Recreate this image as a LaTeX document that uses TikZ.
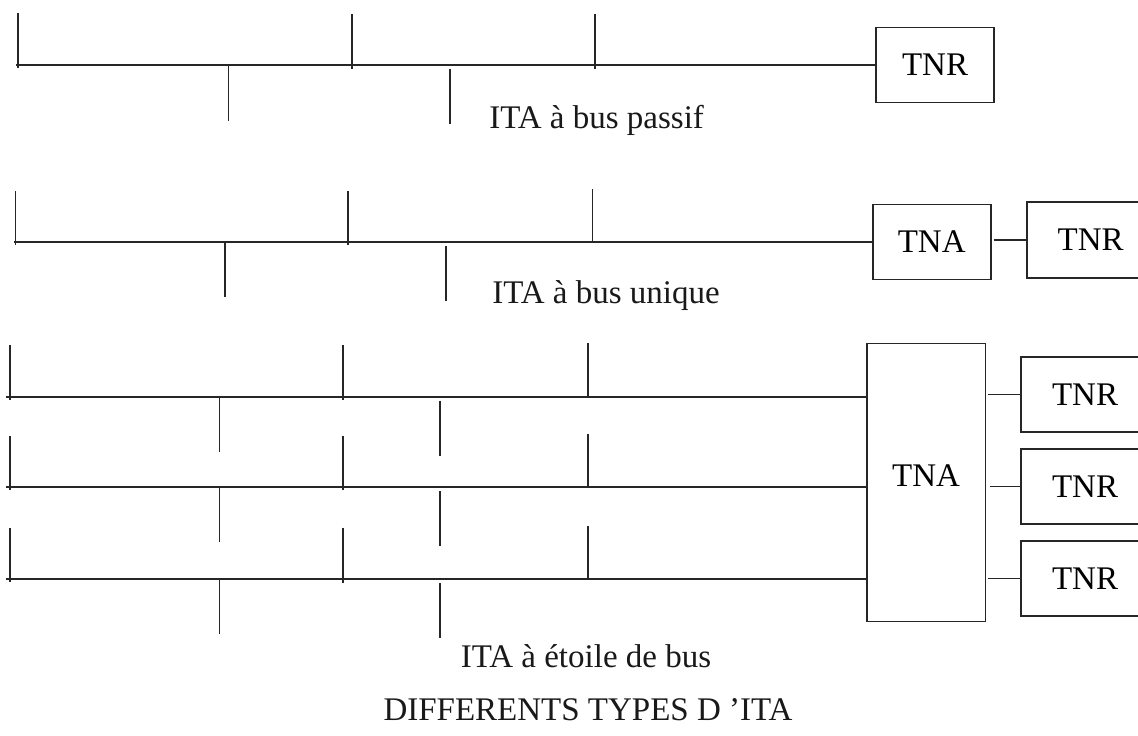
\documentclass[tikz,border=0pt]{standalone}
\usepackage{fontspec}
\setmainfont{Liberation Serif}
\begin{document}
\begin{tikzpicture}[x=0.5pt,y=-0.5pt,
  ln/.style={line width=0.8pt,draw=black!85},
  boxnode/.style={draw=black!85,line width=0.8pt,rectangle,inner sep=0pt,font=\fontsize{16.5}{19}\selectfont},
  lbl/.style={font=\fontsize{16.5}{19}\selectfont,inner sep=0pt,text=black!90}]
\useasboundingbox (0,0) rectangle (1138,735);
\clip (0,0) rectangle (1138,735);
\fill[white] (0,0) rectangle (1138,735);

% ---------- Row 1 : bus passif ----------
\node[boxnode,minimum width=59pt,minimum height=37.5pt] (tnr1) at (935,65) {TNR};
\coordinate (b1) at (16,65);
\draw[ln] (b1) -- (tnr1.west);
\draw[ln] (18,13) -- (18,68);
\draw[ln] (352,14) -- (352,69);
\draw[ln] (595,14) -- (595,69);
\draw[ln] (228.6,65) -- (228.6,121);
\draw[ln] (450,69) -- (450,124);
\node[lbl,anchor=base west] (l1) at (489,128) {ITA à bus passif};

% ---------- Row 2 : bus unique ----------
\node[boxnode,minimum width=59pt,minimum height=37.5pt] (tna2) at (931.7,242) {TNA};
\node[boxnode,minimum width=64pt,minimum height=38pt] (tnr2) at (1090.7,240) {TNR};
\coordinate (b2) at (14,242);
\draw[ln] (b2) -- (tna2.west);
\draw[ln] (tna2.east |- tnr2.west) ++(2,0) -- (tnr2.west);
\draw[ln] (15.5,191) -- (15.5,245);
\draw[ln] (348,191) -- (348,245);
\draw[ln] (592.6,189) -- (592.6,242);
\draw[ln] (225,242) -- (225,297);
\draw[ln] (445.7,246) -- (445.7,301);
\node[lbl,anchor=base west] (l2) at (492,303) {ITA à bus unique};

% ---------- Row 3 : etoile de bus ----------
\node[boxnode,minimum width=59.3pt,minimum height=139pt,text depth=7pt] (tna3) at (926,482.3) {TNA};
\node[boxnode,minimum width=64pt,minimum height=37.5pt] (tnr3a) at (1085,394.5) {TNR};
\node[boxnode,minimum width=64pt,minimum height=37.5pt] (tnr3b) at (1085,486.5) {TNR};
\node[boxnode,minimum width=64pt,minimum height=37.5pt] (tnr3c) at (1085,578.5) {TNR};
\coordinate (b3a) at (6,397);
\coordinate (b3b) at (6,487);
\coordinate (b3c) at (6,579);
\draw[ln] (b3a) -- (tna3.west |- b3a);
\draw[ln] (b3b) -- (tna3.west |- b3b);
\draw[ln] (b3c) -- (tna3.west |- b3c);
\draw[ln] (tna3.east |- tnr3a.west) ++(2,0) -- (tnr3a.west);
\draw[ln] (tna3.east |- tnr3b.west) ++(4,0) -- (tnr3b.west);
\draw[ln] (tna3.east |- tnr3c.west) ++(2,0) -- (tnr3c.west);
% ticks bus a
\draw[ln] (9.8,345) -- (9.8,400);
\draw[ln] (343,345) -- (343,400);
\draw[ln] (587.8,343) -- (587.8,398);
\draw[ln] (219.6,397) -- (219.6,452);
\draw[ln] (440,400.7) -- (440,456);
% ticks bus b
\draw[ln] (9.8,435.7) -- (9.8,490);
\draw[ln] (343,435.7) -- (343,490);
\draw[ln] (587.8,434) -- (587.8,488);
\draw[ln] (219.6,487) -- (219.6,542);
\draw[ln] (440,491) -- (440,546);
% ticks bus c
\draw[ln] (9.8,527.7) -- (9.8,582);
\draw[ln] (343,527.7) -- (343,582.7);
\draw[ln] (587.8,526) -- (587.8,579);
\draw[ln] (219.6,579) -- (219.6,634);
\draw[ln] (440,583) -- (440,638);
\node[lbl,anchor=base] (l3) at (586,667) {ITA à étoile de bus};
\node[lbl,anchor=base] (title) at (588,720) {DIFFERENTS TYPES D ’ITA};
\end{tikzpicture}
\end{document}
